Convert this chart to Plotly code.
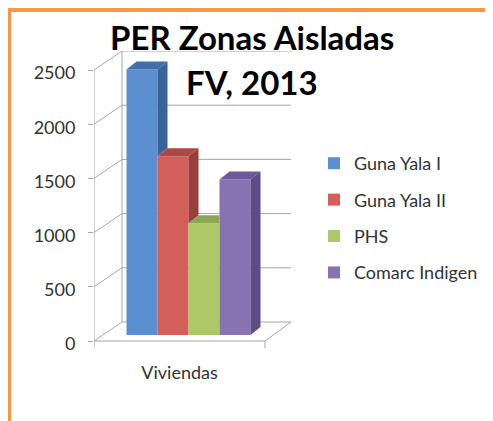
import plotly.graph_objects as go

# ---------------- data ----------------
categories = ["Viviendas"]
series_names = ["Guna Yala I", "Guna Yala II", "PHS", "Comarc Indigen"]
values = [2450, 1650, 1030, 1435]
y_ticks = [0, 500, 1000, 1500, 2000, 2500]
title_lines = ["PER Zonas Aisladas", "FV, 2013"]

# ---------------- styles ----------------
front_colors = ["#5B8FCF", "#D45E5A", "#ADC866", "#8773B2"]
side_colors = ["#386596", "#9A3D3B", "#7F9C45", "#5D4C86"]
top_colors = ["#3F70AA", "#AE4844", "#8BA653", "#6C5A9C"]
GRID = "#A6A6A6"
TEXT = "#333333"
FONT = "Lato"

OFF = 8  # page body margin
W, H = 493 - OFF, 421 - OFF
L, T = 94 - OFF, 51 - OFF
PLOT_W = 197
PX_PER_VAL = 271 / 2500.0
U = 1 / PX_PER_VAL
YMAX = y_ticks[-1]
y_lo = -8 * U
y_hi = YMAX + 19 * U
plot_h = round((y_hi - y_lo) * PX_PER_VAL)
B = H - T - plot_h
R = W - L - PLOT_W

WALL_DX, WALL_DY = 28, 19 * U
FLOOR_W = 171
BAR_W = 31
BAR_SHIFT_X, BAR_BASE = 9, 6 * U
SIDE_DX, SIDE_DY = 10, 8 * U


def px_x(px):
    return (px - OFF - L) / PLOT_W


def px_y(py):
    return (T + plot_h - (py - OFF)) / plot_h


cat_center = FLOOR_W / 2
group_left = cat_center + BAR_SHIFT_X - BAR_W * len(values) / 2

fig = go.Figure()

# front faces (real bars)
for i, (name, v) in enumerate(zip(series_names, values)):
    xc = group_left + BAR_W * (i + 0.5)
    fig.add_trace(go.Bar(
        x=[xc], y=[v], base=[BAR_BASE], width=[BAR_W], name=name,
        marker=dict(color=front_colors[i], line=dict(width=0)),
        legendgroup=name, hoverinfo="skip",
    ))

# 3D side and top faces, derived from values
for i, v in enumerate(values):
    xl = group_left + BAR_W * i
    xr = xl + BAR_W
    top = BAR_BASE + v
    nxt = values[i + 1] if i + 1 < len(values) else None
    if nxt is None:
        sx = [xr, xr + SIDE_DX, xr + SIDE_DX, xr, xr]
        sy = [BAR_BASE, BAR_BASE + SIDE_DY, top + SIDE_DY, top, BAR_BASE]
    elif nxt < v:
        nt = BAR_BASE + nxt
        sx = [xr, xr + SIDE_DX, xr + SIDE_DX, xr, xr]
        sy = [nt, nt + SIDE_DY, top + SIDE_DY, top, nt]
    else:
        sx, sy = None, None
    if sx:
        fig.add_trace(go.Scatter(x=sx, y=sy, fill="toself", fillcolor=side_colors[i],
                                 line=dict(width=0), mode="lines", showlegend=False,
                                 hoverinfo="skip"))
    if nxt is not None and nxt > v:
        tx = [xl, xr, xr, xl + SIDE_DX, xl]
    else:
        tx = [xl, xr, xr + SIDE_DX, xl + SIDE_DX, xl]
    ty = [top, top, top + SIDE_DY, top + SIDE_DY, top]
    fig.add_trace(go.Scatter(x=tx, y=ty, fill="toself", fillcolor=top_colors[i],
                             line=dict(width=0), mode="lines", showlegend=False,
                             hoverinfo="skip"))

# walls / gridlines
shapes = []
line = dict(color=GRID, width=1)


def seg(x0, y0, x1, y1):
    shapes.append(dict(type="line", xref="x", yref="y", x0=x0, y0=y0, x1=x1, y1=y1,
                       line=line, layer="below"))


for v in y_ticks:
    seg(0, v, WALL_DX, v + WALL_DY)
    seg(WALL_DX, v + WALL_DY, PLOT_W, v + WALL_DY)
seg(WALL_DX, WALL_DY, WALL_DX, YMAX + WALL_DY)
seg(0, 0, 0, YMAX)
seg(0, 0, FLOOR_W, 0)
seg(FLOOR_W, 0, PLOT_W, WALL_DY)
seg(0, 0, 0, -7 * U)
seg(FLOOR_W, 0, FLOOR_W, -7 * U)
# orange frame
shapes.append(dict(type="rect", xref="paper", yref="paper", x0=px_x(9), y0=px_y(440),
                   x1=px_x(520), y1=px_y(10), line=dict(color="#F79646", width=4),
                   layer="above"))

annotations = [
    dict(text="<b>%s</b>" % title_lines[0], xref="paper", yref="paper", x=px_x(252), y=px_y(37),
         xanchor="center", yanchor="middle", showarrow=False,
         font=dict(family=FONT, size=33, color="#000000")),
    dict(text="<b>%s</b>" % title_lines[1], xref="paper", yref="paper", x=px_x(252), y=px_y(82),
         xanchor="center", yanchor="middle", showarrow=False,
         font=dict(family=FONT, size=33, color="#000000")),
]

fig.update_layout(
    width=W, height=H,
    margin=dict(l=L, r=R, t=T, b=B, pad=0),
    paper_bgcolor="white", plot_bgcolor="white",
    barmode="overlay",
    shapes=shapes, annotations=annotations,
    font=dict(family=FONT, size=18, color=TEXT),
    legend=dict(xref="container", yref="container", x=(314 - OFF) / W, y=1 - (145 - OFF) / H,
                xanchor="left", yanchor="top", font=dict(family=FONT, size=18, color=TEXT),
                tracegroupgap=10, bgcolor="rgba(0,0,0,0)"),
    xaxis=dict(range=[0, PLOT_W], showgrid=False, zeroline=False, showline=False,
               tickvals=[cat_center], ticktext=categories, ticks="", ticklabelstandoff=11,
               fixedrange=True),
    yaxis=dict(range=[y_lo, y_hi], showgrid=False, zeroline=False, showline=False,
               tickvals=y_ticks, ticks="outside", ticklen=5, tickcolor=GRID, tickwidth=1,
               ticklabelstandoff=9, ticklabelshift=3, fixedrange=True),
    showlegend=True,
)

fig.write_html("out.html")
